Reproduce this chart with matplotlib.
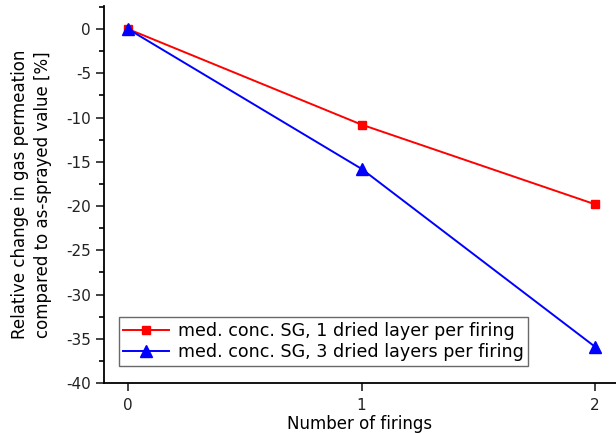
import matplotlib
matplotlib.use("Agg")
import matplotlib.pyplot as plt
from matplotlib.ticker import MultipleLocator

firings = [0, 1, 2]
series1 = [0.0, -10.8, -19.8]
series2 = [0.0, -15.8, -35.9]
label1 = "med. conc. SG, 1 dried layer per firing"
label2 = "med. conc. SG, 3 dried layers per firing"

plt.rcParams['font.family'] = ['DejaVu Sans']
plt.rcParams['axes.unicode_minus'] = False
fig = plt.figure(figsize=(6.16, 4.33), dpi=100)
ax = fig.add_axes([0.169, 0.1155, 0.831, 0.8705])

ax.plot(firings, series1, color='#ff0000', marker='s', markersize=6, lw=1.4, label=label1)
ax.plot(firings, series2, color='#0000ff', marker='^', markersize=8, lw=1.4, label=label2)

ax.set_xlim(-0.103, 2.09)
ax.set_ylim(-40, 2.6)
ax.set_xticks([0, 1, 2])
ax.yaxis.set_major_locator(MultipleLocator(5))
ax.yaxis.set_minor_locator(MultipleLocator(2.5))
ax.spines['top'].set_visible(False)
ax.spines['right'].set_visible(False)
for s in ['left', 'bottom']:
    ax.spines[s].set_linewidth(1.3)
ax.tick_params(axis='both', which='major', direction='out', length=6, width=1.2, labelsize=11, colors='#222222')
ax.tick_params(axis='y', which='minor', direction='out', length=3.5, width=1.2)
ax.tick_params(axis='x', which='major', pad=5)

ax.set_xlabel("Number of firings", fontsize=12, labelpad=1)
ax.set_ylabel("Relative change in gas permeation\ncompared to as-sprayed value [%]", fontsize=12,
              labelpad=10, linespacing=1.35)

leg = ax.legend(loc='lower left', bbox_to_anchor=(0.029, 0.046), fontsize=12.6, frameon=True,
                fancybox=False, edgecolor='#444444', handlelength=2.6, borderpad=0.25,
                labelspacing=0.2, handletextpad=0.5, borderaxespad=0)
leg.get_frame().set_linewidth(1.0)

fig.savefig("out.png", dpi=100)
